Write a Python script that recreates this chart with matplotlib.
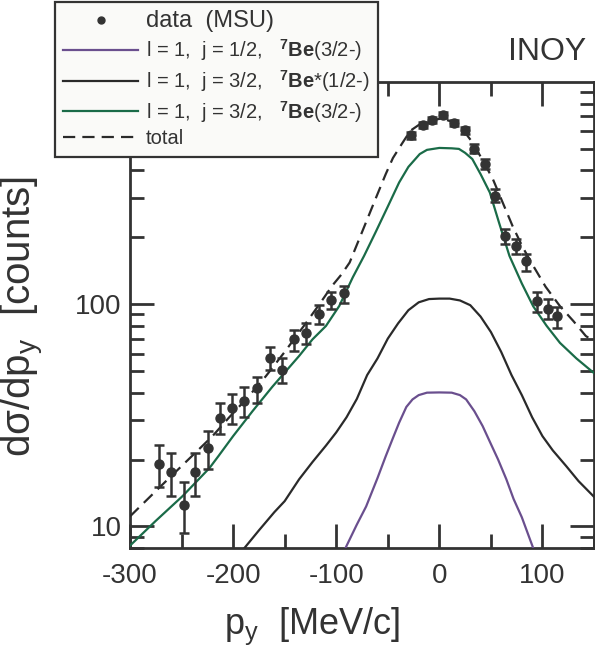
import matplotlib
matplotlib.use("Agg")
import matplotlib.pyplot as plt
from matplotlib.lines import Line2D
from matplotlib.ticker import MultipleLocator, FixedLocator, LogLocator, NullFormatter, FixedFormatter

plt.rcParams['font.family'] = ['Liberation Sans', 'DejaVu Sans']
plt.rcParams['mathtext.fontset'] = 'custom'
plt.rcParams['mathtext.rm'] = 'Liberation Sans'
plt.rcParams['mathtext.bf'] = 'Liberation Sans:bold'
plt.rcParams['mathtext.it'] = 'Liberation Sans:italic'
plt.rcParams['axes.unicode_minus'] = False

INK = '#333333'

# ---- data (MSU) ----
data_x = [-272, -260, -248, -237, -224, -213, -201, -189, -177, -164, -153, -141, -129, -117, -105, -92,
          -27, -16, -7, 4, 14, 25, 34, 44, 54, 64, 74, 84, 95, 105, 114]
data_y = [19.2, 17.6, 12.5, 17.6, 22.6, 30.9, 34.0, 36.7, 41.8, 57.5, 50.5, 70.0, 74.0, 90.1, 104.6, 112.9,
          575, 640, 675, 708, 654, 606, 501, 427, 308, 202, 183, 156, 103.5, 95, 88.5]
data_lo = [15.1, 13.7, 9.3, 13.7, 18.2, 26.0, 28.8, 31.1, 35.8, 50.6, 44.1, 61.4, 66.1, 81.3, 95.0, 101.7,
           555, 618, 652, 686, 632, 585, 478, 405, 287, 186, 168, 141, 92.3, 85.6, 78.5]
data_hi = [23.2, 21.5, 15.8, 21.3, 26.9, 35.8, 39.3, 42.2, 47.2, 64.5, 57.5, 76.6, 82.7, 99.0, 113.6, 121.0,
           596, 662, 698, 730, 676, 627, 525, 450, 330, 218, 196, 168, 113.6, 105.3, 97.6]

# ---- l=1, j=1/2, 7Be(3/2-) (purple) ----
p12_x = [-91, -80, -71, -60, -52, -45, -39, -32, -26, -20, -12, 0, 12, 20, 26, 34, 42, 50, 57, 65, 72, 80, 91]
p12_y = [8.0, 10.2, 12.3, 16.5, 20.7, 25.0, 29.3, 34.5, 37.3, 39.0, 40.0, 40.1, 40.0, 39.0, 37.3, 33.0,
         28.3, 23.5, 20.0, 16.3, 13.3, 11.0, 8.0]

# ---- l=1, j=3/2, 7Be*(1/2-) (black) ----
p32s_x = [-189, -175, -160, -150, -136, -123, -110, -100, -90, -80, -70, -60, -50, -40, -30, -20, -10, 0,
          10, 20, 30, 40, 50, 60, 70, 80, 90, 100, 110, 123, 135, 150]
p32s_y = [8.0, 9.6, 11.6, 13.0, 16.3, 19.5, 23.1, 26.5, 31.0, 37.5, 48.0, 57.0, 70.0, 82.0, 94.0, 102.0,
          105.5, 106.0, 106.0, 104.0, 99.0, 88.0, 75.0, 61.0, 48.0, 39.0, 31.0, 25.5, 22.0, 18.7, 16.0, 13.6]

# ---- l=1, j=3/2, 7Be(3/2-) (green) ----
p32g_x = [-300, -275, -249, -223, -214, -200, -181, -162, -136, -123, -110, -97, -84, -73, -62, -50, -39,
          -30, -19, -12, 0, 12, 19, 25, 32, 40, 49, 58, 68, 80, 91, 104, 117, 133, 150]
p32g_y = [8.2, 10.6, 13.7, 18.3, 20.8, 25.5, 33.1, 42.5, 58.5, 69.5, 79.8, 98.3, 132, 165, 210, 275, 353,
          415, 474, 495, 505, 503, 500, 480, 450, 385, 318, 232, 165, 124, 98, 80, 67, 57, 49]

# ---- total (dashed) ----
tot_x = [-300, -270, -236, -220, -204, -186, -168, -150, -129, -115, -104, -95, -87, -75, -62, -52, -45,
         -36, -28, -18, -10, 3, 16, 24, 32, 42, 52, 61, 71, 81, 91, 103, 117, 130, 142, 150]
tot_y = [11.1, 15.2, 21.6, 25.5, 30.9, 38.0, 47.6, 61.0, 82.7, 102, 121, 136, 154, 211, 297, 385, 455,
         530, 604, 650, 672, 685, 653, 600, 536, 445, 365, 290, 225, 180, 149, 120, 98, 84, 72, 68]

labels = ['data  (MSU)',
          r'l = 1,  j = 1/2,   $^{\mathbf{7}}\mathbf{Be}$(3/2-)',
          r'l = 1,  j = 3/2,   $^{\mathbf{7}}\mathbf{Be}$*(1/2-)',
          r'l = 1,  j = 3/2,   $^{\mathbf{7}}\mathbf{Be}$(3/2-)',
          'total']
c_purple = '#6a4f8e'
c_black = '#2a2a2a'
c_green = '#1a6b48'

fig = plt.figure(figsize=(5.95, 6.56), dpi=100)
ax = fig.add_axes([130/595, 1-548/656, 464/595, 466/656])

ax.set_yscale('log')
ax.set_xlim(-300, 150)
ax.set_ylim(8.0, 1000)

lw = 1.6
dash = (5.5, 3.2)
ax.plot(p12_x, p12_y, color=c_purple, lw=lw, zorder=3)
ax.plot(p32s_x, p32s_y, color=c_black, lw=lw, zorder=3)
ax.plot(p32g_x, p32g_y, color=c_green, lw=lw, zorder=3)
ax.plot(tot_x, tot_y, color=c_black, lw=lw, dashes=dash, zorder=3)

yerr = [[y - lo for y, lo in zip(data_y, data_lo)], [hi - y for y, hi in zip(data_y, data_hi)]]
ax.errorbar(data_x, data_y, yerr=yerr, fmt='o', ms=6.5, color=INK, mfc=INK, mec=INK,
            elinewidth=1.8, capsize=3.5, capthick=1.8, zorder=4)

# axes styling
for s in ax.spines.values():
    s.set_linewidth(2)
    s.set_color(INK)
ax.xaxis.set_major_locator(FixedLocator([-300, -200, -100, 0, 100]))
ax.xaxis.set_minor_locator(MultipleLocator(50))
ax.yaxis.set_major_locator(FixedLocator([10, 100]))
ax.yaxis.set_major_formatter(FixedFormatter(['10', '100']))
ax.yaxis.set_minor_locator(LogLocator(base=10, subs=[2, 3, 4, 5, 6, 7, 8, 9], numticks=20))
ax.yaxis.set_minor_formatter(NullFormatter())
ax.tick_params(which='major', direction='in', length=17, width=2, top=True, right=True,
               labelsize=20, colors=INK, labelcolor=INK)
ax.tick_params(axis='x', which='major', pad=11)
ax.tick_params(axis='y', which='major', pad=6)
ax.tick_params(which='minor', direction='in', length=10, width=2, top=True, right=True, colors=INK)

ax.set_xlabel(r'p$_\mathregular{y}$  [MeV/c]', fontsize=26, color=INK)
ax.set_ylabel(r'd$\mathregular{\sigma}$/dp$_\mathregular{y}$  [counts]', fontsize=29, color=INK)
ax.xaxis.set_label_coords(0.392, -0.123)
ax.yaxis.set_label_coords(-0.181, 0.497)

fig.text(586/595, 1-60/656, 'INOY', fontsize=23, color=INK, ha='right', va='baseline')

handles = [Line2D([], [], ls='none', marker='o', ms=5, color=INK),
           Line2D([], [], color=c_purple, lw=lw),
           Line2D([], [], color=c_black, lw=lw),
           Line2D([], [], color=c_green, lw=lw),
           Line2D([], [], color=c_black, lw=lw, dashes=dash)]
leg = ax.legend(handles, labels, loc='upper left', bbox_to_anchor=(55/595, 1-2/656),
                bbox_transform=fig.transFigure, borderaxespad=0, fontsize=14.5,
                handlelength=3.7, handletextpad=0.4, borderpad=0.42, labelspacing=0.24,
                fancybox=False, framealpha=1, facecolor='#fafaf8', edgecolor=INK)
leg.get_frame().set_linewidth(1.6)
leg.set_zorder(10)
for t in leg.get_texts():
    t.set_color(INK)
leg.get_texts()[0].set_fontsize(17)

fig.savefig('out.png', dpi=100)
